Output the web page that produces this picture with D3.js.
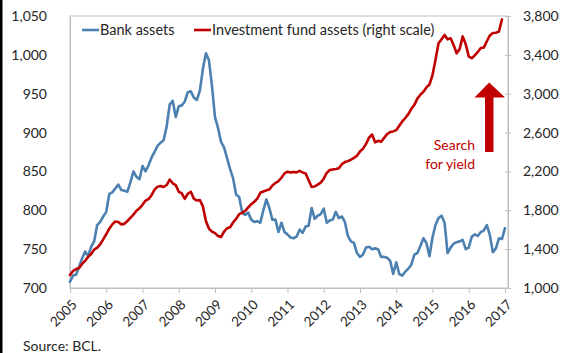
<!DOCTYPE html>
<html>
<head>
<meta charset="utf-8">
<script src="https://cdn.jsdelivr.net/npm/d3@7"></script>
<style>
  html, body { margin: 0; padding: 0; background: #fff; }
  svg { display: block; }
  text { font-family: Lato, "Open Sans", sans-serif; fill: #262626; }
</style>
</head>
<body>
<svg id="chart" width="561" height="353"></svg>
<script>
// Monthly series, January 2005 onwards
const bankAssets = [
  708, 716, 717, 727, 738, 747, 741, 753, 760, 781, 785, 792,
  798, 821, 823, 828, 833, 826, 825, 824, 836, 850, 843, 840,
  857, 850, 858, 868, 875, 883, 887, 890, 908, 936, 941, 920,
  934, 935, 940, 952, 953, 945, 942, 954, 982, 1002, 993, 960,
  920, 906, 888, 881, 867, 853, 841, 820, 817, 797, 794, 797,
  788, 785, 786, 784, 800, 814, 803, 788, 788, 772, 784, 772,
  769, 765, 764, 766, 775, 771, 779, 780, 803, 789, 793, 795,
  802, 784, 787, 788, 798, 790, 792, 785, 767, 760, 758, 745,
  740, 743, 752, 753, 750, 751, 750, 740, 740, 739, 735, 718,
  733, 718, 716, 721, 725, 730, 743, 745, 754, 764, 758, 741,
  765, 781, 790, 793, 784, 745, 752, 757, 759, 760, 762, 750,
  752, 766, 769, 767, 772, 774, 781, 768, 746, 751, 764, 763,
  777
];
const fundAssets = [
  1134, 1175, 1195, 1205, 1248, 1280, 1320, 1350, 1395, 1415, 1450, 1500,
  1555, 1610, 1655, 1685, 1680, 1655, 1660, 1690, 1722, 1755, 1795, 1820,
  1856, 1900, 1915, 1955, 2012, 2043, 2050, 2040, 2060, 2115, 2078, 2060,
  1990, 1975, 1918, 1970, 1991, 1920, 1900, 1905, 1840, 1690, 1610, 1580,
  1565, 1535, 1525, 1580, 1615, 1626, 1675, 1712, 1760, 1773, 1795, 1830,
  1862, 1888, 1920, 1980, 1994, 2005, 2014, 2055, 2080, 2100, 2135, 2180,
  2197, 2188, 2195, 2190, 2205, 2190, 2180, 2110, 2040, 2045, 2065, 2085,
  2125, 2185, 2215, 2220, 2225, 2232, 2275, 2296, 2306, 2320, 2340, 2362,
  2405, 2435, 2482, 2548, 2580, 2500, 2515, 2505, 2545, 2585, 2605, 2612,
  2625, 2670, 2715, 2750, 2790, 2845, 2885, 2950, 2990, 3020, 3065, 3095,
  3190, 3350, 3520, 3560, 3605, 3560, 3570, 3500, 3416, 3460, 3590, 3510,
  3385, 3365, 3395, 3430, 3470, 3475, 3540, 3600, 3625, 3628, 3640, 3765
];
const years = [2005, 2006, 2007, 2008, 2009, 2010, 2011, 2012, 2013, 2014, 2015, 2016, 2017];
const leftTicks = [700, 750, 800, 850, 900, 950, 1000, 1050];
const rightTicks = [1000, 1400, 1800, 2200, 2600, 3000, 3400, 3800];
const seriesNames = ["Bank assets", "Investment fund assets (right scale)"];
const annotation = ["Search", "for yield"];
const sourceNote = "Source: BCL.";

const BLUE = "#4c80b0", RED = "#c00000", AXIS = "#bfbfbf";
const plot = { left: 70, right: 508, top: 16, bottom: 288 };

const svg = d3.select("#chart");

// page edge rule on the left
svg.append("rect").attr("x", 0).attr("y", 0).attr("width", 2.5).attr("height", 353).attr("fill", "#000");

const x = d3.scaleLinear().domain([0, 145]).range([plot.left, plot.right]);
const yL = d3.scaleLinear().domain([700, 1050]).range([plot.bottom, plot.top]);
const yR = d3.scaleLinear().domain([1000, 3800]).range([plot.bottom, plot.top]);

// plot frame
svg.append("rect")
  .attr("x", plot.left).attr("y", plot.top)
  .attr("width", plot.right - plot.left).attr("height", plot.bottom - plot.top)
  .attr("fill", "none").attr("stroke", AXIS).attr("stroke-width", 1);

// bottom axis: yearly ticks with slanted labels
const xAxis = svg.append("g")
  .attr("transform", `translate(0,${plot.bottom})`)
  .call(d3.axisBottom(x)
    .tickValues(years.map((_, i) => i * 12))
    .tickFormat((d, i) => years[i])
    .tickSize(5).tickSizeOuter(0));
xAxis.select(".domain").attr("stroke", AXIS);
xAxis.selectAll(".tick line").attr("stroke", AXIS);
xAxis.selectAll(".tick text")
  .attr("font-size", 13.5)
  .attr("fill", "#262626")
  .attr("text-anchor", "end")
  .attr("transform", "translate(4,14) rotate(-45)")
  .attr("x", 0).attr("y", 0).attr("dy", "0.35em");

// left axis
const fmt = d3.format(",");
const leftAxis = svg.append("g")
  .attr("transform", `translate(${plot.left},0)`)
  .call(d3.axisLeft(yL).tickValues(leftTicks).tickFormat(fmt).tickSize(0).tickPadding(23));
leftAxis.select(".domain").attr("stroke", AXIS);
leftAxis.selectAll(".tick text").attr("font-size", 14).attr("fill", "#262626");

// right axis
const rightAxis = svg.append("g")
  .attr("transform", `translate(${plot.right},0)`)
  .call(d3.axisRight(yR).tickValues(rightTicks).tickFormat(fmt).tickSize(3).tickPadding(12));
rightAxis.select(".domain").attr("stroke", AXIS);
rightAxis.selectAll(".tick line").attr("stroke", AXIS).attr("x1", -3);
rightAxis.selectAll(".tick text").attr("font-size", 14).attr("fill", "#262626");

// series lines
const lineBank = d3.line().x((d, i) => x(i)).y(d => yL(d));
const lineFund = d3.line().x((d, i) => x(i)).y(d => yR(d));

svg.append("path").datum(bankAssets)
  .attr("d", lineBank).attr("fill", "none")
  .attr("stroke", BLUE).attr("stroke-width", 2.6)
  .attr("stroke-linejoin", "round").attr("stroke-linecap", "round");

svg.append("path").datum(fundAssets)
  .attr("d", lineFund).attr("fill", "none")
  .attr("stroke", RED).attr("stroke-width", 2.6)
  .attr("stroke-linejoin", "round").attr("stroke-linecap", "round");

// legend
const legend = svg.append("g");
const legendItems = [
  { name: seriesNames[0], color: BLUE, x0: 82 },
  { name: seriesNames[1], color: RED, x0: 194 }
];
legendItems.forEach(it => {
  legend.append("line")
    .attr("x1", it.x0).attr("x2", it.x0 + 17).attr("y1", 30).attr("y2", 30)
    .attr("stroke", it.color).attr("stroke-width", 2.6);
  legend.append("text")
    .attr("x", it.x0 + 18).attr("y", 30).attr("dy", "0.35em")
    .attr("font-size", 14.5).text(it.name);
});

// annotation arrow and label
const arrow = svg.append("g").attr("fill", RED);
arrow.append("rect").attr("x", 485).attr("y", 96).attr("width", 8.5).attr("height", 56);
arrow.append("path").attr("d", "M474.5,97.5 L489.2,82.5 L505,97.5 Z");
annotation.forEach((t, i) => {
  svg.append("text")
    .attr("x", 475).attr("y", 145 + i * 19.5).attr("dy", "0.35em")
    .attr("text-anchor", "end").attr("font-size", 14)
    .style("fill", RED).text(t);
});

// source line
svg.append("text").attr("x", 23).attr("y", 351).attr("font-size", 14).text(sourceNote);
</script>
</body>
</html>
